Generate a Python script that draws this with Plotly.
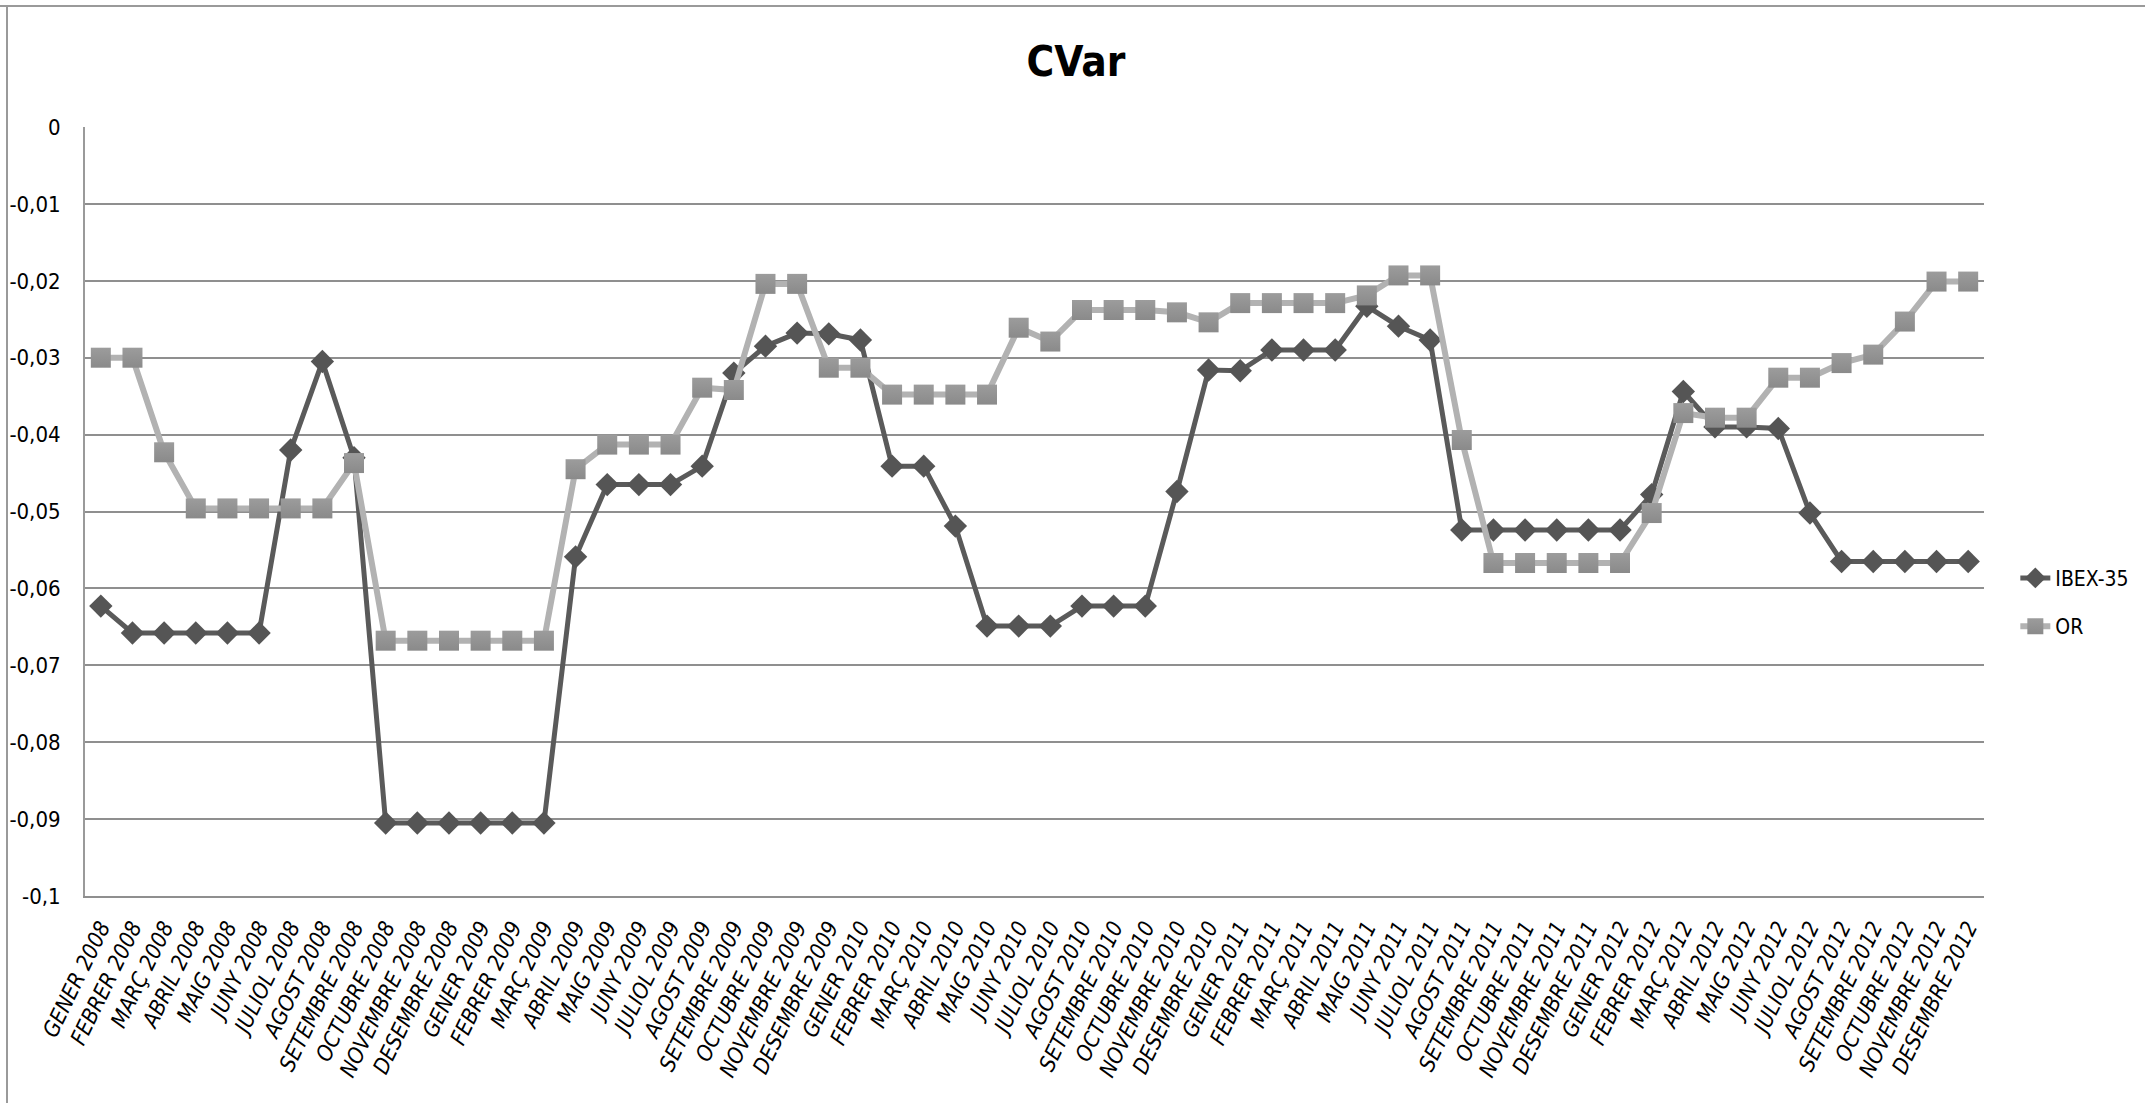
import plotly.graph_objects as go

# Monthly categories, Jan 2008 – Dec 2012
months = ["GENER", "FEBRER", "MARÇ", "ABRIL", "MAIG", "JUNY", "JULIOL",
          "AGOST", "SETEMBRE", "OCTUBRE", "NOVEMBRE", "DESEMBRE"]
years = ["2008", "2009", "2010", "2011", "2012"]
categories = [f"{m} {y}" for y in years for m in months]

# Conditional VaR per month
ibex35 = [
    -0.0623, -0.0658, -0.0658, -0.0658, -0.0658, -0.0658, -0.0420, -0.0305, -0.0430, -0.0905, -0.0905, -0.0905,
    -0.0905, -0.0905, -0.0905, -0.0559, -0.0465, -0.0465, -0.0465, -0.0441, -0.0320, -0.0285, -0.0268, -0.0269,
    -0.0277, -0.0441, -0.0441, -0.0519, -0.0649, -0.0649, -0.0649, -0.0623, -0.0623, -0.0623, -0.0474, -0.0316,
    -0.0317, -0.0290, -0.0290, -0.0290, -0.0233, -0.0259, -0.0277, -0.0524, -0.0524, -0.0524, -0.0524, -0.0524,
    -0.0524, -0.0478, -0.0344, -0.0390, -0.0390, -0.0392, -0.0502, -0.0565, -0.0565, -0.0565, -0.0565, -0.0565,
]
gold = [
    -0.0300, -0.0300, -0.0423, -0.0496, -0.0496, -0.0496, -0.0496, -0.0496, -0.0437, -0.0668, -0.0668, -0.0668,
    -0.0668, -0.0668, -0.0668, -0.0445, -0.0413, -0.0413, -0.0413, -0.0339, -0.0342, -0.0204, -0.0204, -0.0313,
    -0.0313, -0.0348, -0.0348, -0.0348, -0.0348, -0.0261, -0.0279, -0.0238, -0.0238, -0.0238, -0.0241, -0.0254,
    -0.0229, -0.0229, -0.0229, -0.0229, -0.0219, -0.0193, -0.0193, -0.0407, -0.0567, -0.0567, -0.0567, -0.0567,
    -0.0567, -0.0502, -0.0372, -0.0378, -0.0378, -0.0326, -0.0326, -0.0307, -0.0296, -0.0253, -0.0201, -0.0201,
]

y_ticks = [0, -0.01, -0.02, -0.03, -0.04, -0.05, -0.06, -0.07, -0.08, -0.09, -0.1]
y_tick_text = ["0", "-0,01", "-0,02", "-0,03", "-0,04", "-0,05", "-0,06", "-0,07", "-0,08", "-0,09", "-0,1"]

FONT = "Liberation Sans Narrow, DejaVu Sans Condensed, Arial Narrow, sans-serif"

fig = go.Figure()
fig.add_trace(go.Scatter(
    x=categories, y=ibex35, name="IBEX-35", mode="lines+markers",
    legendgroup="ibex",
    line=dict(color="#5a5a5a", width=5),
    marker=dict(symbol="diamond", size=18, color="#555555"),
    cliponaxis=False,
))
fig.add_trace(go.Scatter(
    x=categories, y=gold, name="OR", mode="lines+markers",
    legendgroup="or",
    line=dict(color="#b2b2b2", width=6),
    marker=dict(symbol="square", size=20, color="#9c9c9c",
                gradient=dict(type="vertical", color="#8a8a8a")),
    cliponaxis=False,
))

fig.update_layout(
    width=2145, height=1103,
    margin=dict(l=85, r=161, t=127, b=207, autoexpand=False),
    paper_bgcolor="white", plot_bgcolor="white",
    font=dict(family=FONT, color="black"),
    title=dict(text="<b>CVar</b>", x=1076 / 2145, xanchor="center",
               y=1 - 61 / 1103, yanchor="middle", yref="container",
               font=dict(size=42, family=FONT, color="black")),
    legend=dict(x=1.0165, xanchor="left", y=0.382, yanchor="middle",
                font=dict(size=21, family=FONT), traceorder="grouped",
                tracegroupgap=18, bgcolor="rgba(0,0,0,0)"),
    xaxis=dict(
        type="category", tickmode="linear", dtick=1, tickangle=-64,
        tickfont=dict(size=22, family=FONT, style="italic"),
        showgrid=False, showline=True, linecolor="#8f8f8f", linewidth=2,
        ticks="", range=[-0.5, len(categories) - 0.5],
        ticklabelstandoff=8, automargin=False,
    ),
    yaxis=dict(
        range=[-0.1, 0], tickmode="array", tickvals=y_ticks, ticktext=y_tick_text,
        tickfont=dict(size=22, family=FONT),
        showgrid=True, gridcolor="#8f8f8f", gridwidth=1.6,
        showline=True, linecolor="#9a9a9a", linewidth=2,
        zeroline=False, ticks="", ticklabelstandoff=18, automargin=False,
    ),
    shapes=[
        dict(type="line", xref="paper", yref="paper",
             x0=-85 / 1899, x1=(2145 - 85) / 1899,
             y0=1 + 121 / 769, y1=1 + 121 / 769,
             line=dict(color="#9a9a9a", width=2)),
        dict(type="line", xref="paper", yref="paper",
             x0=-78 / 1899, x1=-78 / 1899,
             y0=1 + 121 / 769, y1=-207 / 769,
             line=dict(color="#9a9a9a", width=2)),
    ],
)

fig.write_html("out.html")
